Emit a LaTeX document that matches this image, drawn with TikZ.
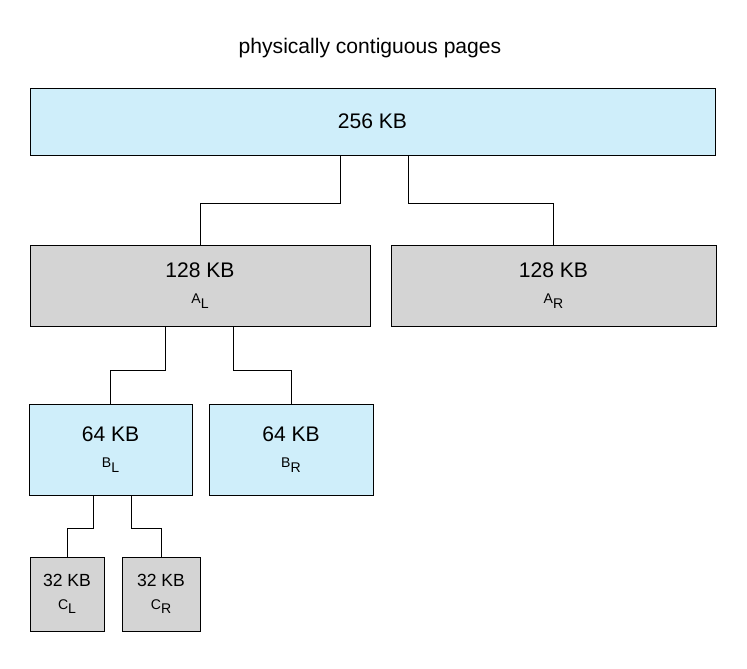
\documentclass[tikz,border=0pt]{standalone}
\usepackage{fontspec}
\setmainfont{Liberation Sans}
\definecolor{pageblue}{HTML}{CFEEFA}
\definecolor{pagegray}{HTML}{D4D4D4}
\newcommand{\sub}[2]{{\footnotesize #1\raisebox{-0.6ex}{#2}}}
\tikzset{
  blk/.style={draw, line width=0.5pt, inner sep=0pt, align=center, font=\large},
  link/.style={line width=0.5pt}
}
\begin{document}
\begin{tikzpicture}[x=0.02cm,y=-0.02cm]
        \useasboundingbox (0,0) rectangle (747,669);
        \node at (370,48) {\large physically contiguous pages};

        \node[blk, fill=pageblue, minimum width=13.7cm, minimum height=1.34cm] (top) at (372.5,121.5) {256 KB};

        \node[blk, fill=pagegray, minimum width=6.8cm, minimum height=1.62cm] (al) at (200,285.5) {128 KB\\[1pt]\sub{A}{L}};
        \node[blk, fill=pagegray, minimum width=6.5cm, minimum height=1.62cm] (ar) at (553.5,285.5) {128 KB\\[1pt]\sub{A}{R}};

        \node[blk, fill=pageblue, minimum width=3.26cm, minimum height=1.82cm] (bl) at (110.5,449.5) {64 KB\\[1pt]\sub{B}{L}};
        \node[blk, fill=pageblue, minimum width=3.28cm, minimum height=1.82cm] (br) at (291,449.5) {64 KB\\[1pt]\sub{B}{R}};

        \node[blk, fill=pagegray, font=\normalsize, minimum width=1.48cm, minimum height=1.48cm] (cl) at (67,594) {32 KB\\[1pt]\sub{C}{L}};
        \node[blk, fill=pagegray, font=\normalsize, minimum width=1.56cm, minimum height=1.48cm] (cr) at (161,594) {32 KB\\[1pt]\sub{C}{R}};

        % splits
        \draw[link] ([xshift=-0.65cm]top.south) -- ++(0,48) -| (al.north);
        \draw[link] ([xshift=0.71cm]top.south) -- ++(0,48) -| (ar.north);
        \draw[link] ([xshift=-0.7cm]al.south) -- ++(0,44) -| (bl.north);
        \draw[link] ([xshift=0.66cm]al.south) -- ++(0,44) -| (br.north);
        \draw[link] ([xshift=-0.35cm]bl.south) -- ++(0,33) -| (cl.north);
        \draw[link] ([xshift=0.41cm]bl.south) -- ++(0,33) -| (cr.north);
\end{tikzpicture}
\end{document}
